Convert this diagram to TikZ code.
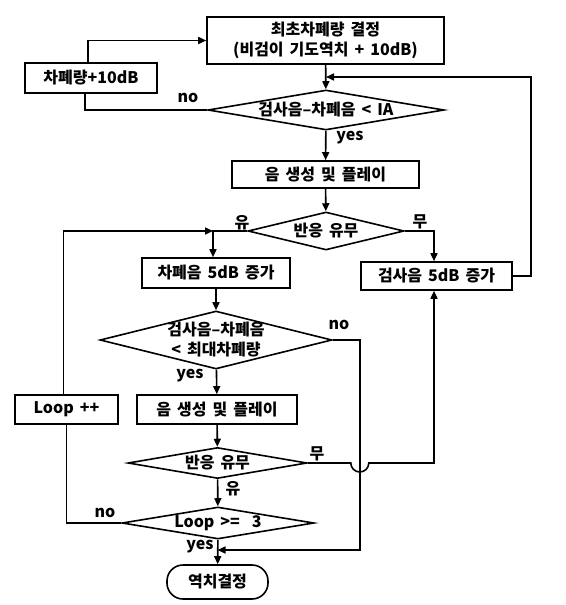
\documentclass[tikz,border=0pt]{standalone}
\usepackage{fontspec}
\setmainfont{Noto Sans CJK KR}
\usetikzlibrary{shapes.geometric,arrows.meta}

\begin{document}
\begin{tikzpicture}[
    x=1pt, y=-1pt,
    line width=1.6pt,
    font={\fontsize{16}{20}\selectfont\bfseries\spaceskip=6pt plus 1pt},
    stage/.style={rectangle, draw=black, align=center, inner sep=0pt},
    check/.style={diamond, draw=black, align=center, inner sep=-3pt},
    endbox/.style={rectangle, rounded corners=16pt, draw=black, inner sep=0pt},
    tag/.style={inner sep=0pt},
    arrow/.style={->, >={Triangle[length=8pt,width=7pt]}}
]
\useasboundingbox (0,0) rectangle (565,605);

% Stages
\node[stage, minimum width=237pt, minimum height=47pt] (s1) at (325.5,40.5) {최초차폐량 결정\\(비검이 기도역치 + 10dB)};
\node[stage, minimum width=132pt, minimum height=30pt] (s0) at (91,78) {차폐량+10dB};
\node[check, aspect=5.9, minimum width=236pt, minimum height=40pt] (c1) at (326,110) {검사음–차폐음 < IA};
\node[stage, minimum width=187pt, minimum height=27pt] (s2) at (325.5,174.5) {음 생성 및 플레이};
\node[check, aspect=4.1, minimum width=156pt, minimum height=38pt] (c2) at (326,231) {반응 유무};
\node[stage, minimum width=148pt, minimum height=30pt] (s3) at (216,273) {차폐음 5dB 증가};
\node[stage, minimum width=151pt, minimum height=28pt] (s4) at (436.5,276) {검사음 5dB 증가};
\node[check, aspect=4, minimum width=232pt, minimum height=58pt] (c3) at (216,340) {검사음–차폐음\\< 최대차폐량};
\node[stage, minimum width=103pt, minimum height=29pt] (s5) at (66.5,409.5) {Loop ++};
\node[stage, minimum width=160pt, minimum height=29pt] (s6) at (217,409.5) {음 생성 및 플레이};
\node[check, aspect=5.8, minimum width=179pt, minimum height=31pt] (c4) at (217.5,463) {반응 유무};
\node[check, aspect=6, minimum width=192pt, minimum height=32pt] (c5) at (218,523) {Loop >=\ \ 3};
\node[endbox, minimum width=101pt, minimum height=34pt] (s7) at (217.5,582) {역치결정};

% Labels
\node[tag] (n1) at (188,98) {no};
\node[tag] (y1) at (350,138) {yes};
\node[tag] (u1) at (242,223) {유};
\node[tag] (m1) at (420,222) {무};
\node[tag] (n2) at (339,325) {no};
\node[tag] (y2) at (190,376) {yes};
\node[tag] (m2) at (317,454) {무};
\node[tag] (u2) at (233,489) {유};
\node[tag] (n3) at (105,513) {no};
\node[tag] (y3) at (200,547) {yes};

% Arrows
\coordinate (r1) at (326,77);
\coordinate (r2) at (217.5,550);
\coordinate (r3) at (213,231);
\draw[arrow] (s1) -- (c1);
\draw[arrow] ([xshift=-3pt]s0.north) |- (s1.west);
\draw ([xshift=-6pt]s0.south) |- (c1.west);
\draw[arrow] (c1) -- (s2);
\draw[arrow] (s2) -- (c2);
\draw[arrow] (c2.west) -| ([xshift=-3pt]s3.north);
\draw[arrow] (c2.east) -| ([xshift=-2.5pt]s4.north);
\draw[arrow] (s4.east) -- ++(18,0) |- (r1);
\draw[arrow] (s3) -- (c3);
\draw[arrow] (c3) -- (s6);
\draw[arrow] (c3.east) -- ++(27,0) |- (r2);
\draw[arrow] (s6) -- (c4);
\draw[arrow] (c4) -- (c5);
\draw[arrow] (c4.east) -- ++(43,0) arc[start angle=180, end angle=0, radius=9] -| ([xshift=-2.5pt]s4.south);
\draw (c5.west) -| (s5.south);
\draw[arrow] ([xshift=-3pt]s5.north) |- (r3);
\draw[arrow] (c5) -- (s7);
\end{tikzpicture}
\end{document}
